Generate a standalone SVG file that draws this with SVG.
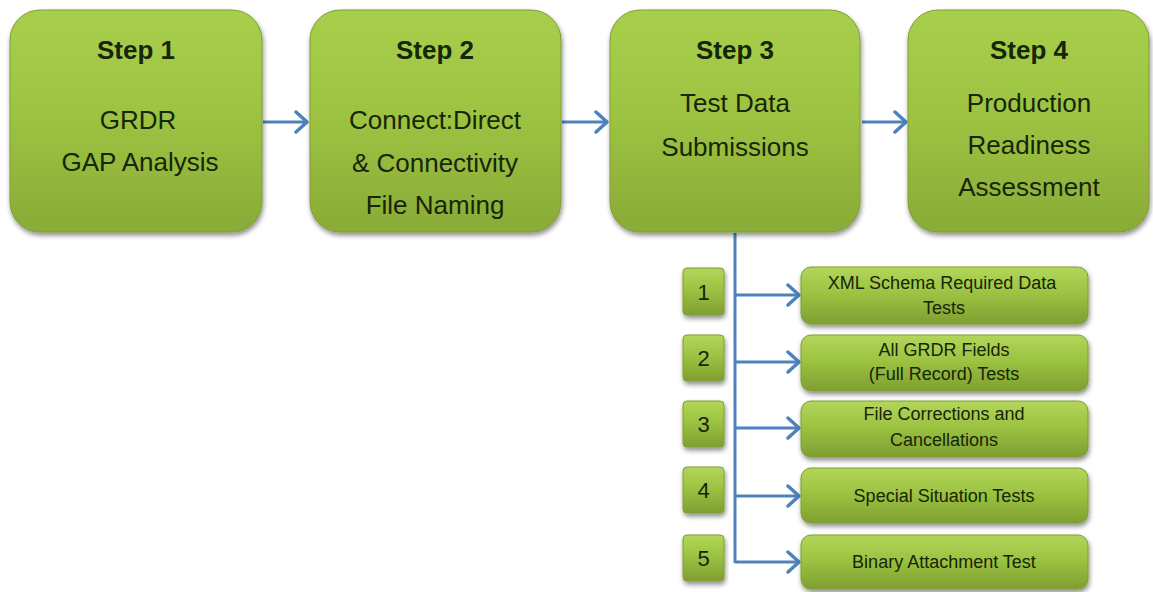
<svg xmlns="http://www.w3.org/2000/svg" width="1153" height="592" viewBox="0 0 1153 592">
<defs>
<linearGradient id="gBox" x1="0" y1="0" x2="0" y2="1">
<stop offset="0" stop-color="#a8cf4c"/>
<stop offset="0.5" stop-color="#9cc241"/>
<stop offset="1" stop-color="#89ab37"/>
</linearGradient>
<linearGradient id="gSmall" x1="0" y1="0" x2="0" y2="1">
<stop offset="0" stop-color="#b2d65a"/>
<stop offset="0.45" stop-color="#9cc342"/>
<stop offset="1" stop-color="#7f9f31"/>
</linearGradient>
<filter id="sh" x="-10%" y="-10%" width="120%" height="130%">
<feGaussianBlur in="SourceAlpha" stdDeviation="2.5"/>
<feOffset dx="1" dy="3" result="b"/>
<feComponentTransfer><feFuncA type="linear" slope="0.45"/></feComponentTransfer>
<feMerge><feMergeNode/><feMergeNode in="SourceGraphic"/></feMerge>
</filter>
<marker id="arr" markerWidth="16" markerHeight="24" refX="13" refY="12" orient="auto" markerUnits="userSpaceOnUse">
<path d="M2,2 L13,12 L2,22" fill="none" stroke="#4f81bd" stroke-width="3.5" stroke-linecap="round" stroke-linejoin="round"/>
</marker>
</defs>
<style>
.big{fill:url(#gBox);stroke:#7e9e30;stroke-width:1;filter:url(#sh)}
.sm{fill:url(#gSmall);stroke:#7e9e30;stroke-width:1;filter:url(#sh)}
.t{font-family:"Liberation Sans",Arial,sans-serif;fill:#172508;text-anchor:middle}
.h{font-size:26px;font-weight:bold}
.b{font-size:26px}
.s{font-size:18px}
.n{font-size:22px}
.c{fill:none;stroke:#4f81bd;stroke-width:3}
</style>
<rect width="1153" height="592" fill="#ffffff"/>

<g id="connectors">
<line class="c" x1="263" y1="122" x2="307" y2="122" marker-end="url(#arr)"/>
<line class="c" x1="562" y1="122" x2="607" y2="122" marker-end="url(#arr)"/>
<line class="c" x1="862" y1="122" x2="906" y2="122" marker-end="url(#arr)"/>
<line class="c" x1="735" y1="233" x2="735" y2="563"/>
<line class="c" x1="735" y1="295" x2="799" y2="295" marker-end="url(#arr)"/>
<line class="c" x1="735" y1="362" x2="799" y2="362" marker-end="url(#arr)"/>
<line class="c" x1="735" y1="428" x2="799" y2="428" marker-end="url(#arr)"/>
<line class="c" x1="735" y1="496" x2="799" y2="496" marker-end="url(#arr)"/>
<line class="c" x1="735" y1="562" x2="799" y2="562" marker-end="url(#arr)"/>
</g>

<g id="step1">
<rect class="big" x="10" y="10" width="252" height="222" rx="30"/>
<text class="t h" x="136" y="59">Step 1</text>
<text class="t b" x="138" y="129">GRDR</text>
<text class="t b" x="140" y="171">GAP Analysis</text>
</g>
<g id="step2">
<rect class="big" x="310" y="10" width="251" height="222" rx="30"/>
<text class="t h" x="435" y="59">Step 2</text>
<text class="t b" x="435" y="129">Connect:Direct</text>
<text class="t b" x="435" y="172">&amp; Connectivity</text>
<text class="t b" x="435" y="214">File Naming</text>
</g>
<g id="step3">
<rect class="big" x="610" y="10" width="250" height="222" rx="30"/>
<text class="t h" x="735" y="59">Step 3</text>
<text class="t b" x="735" y="112">Test Data</text>
<text class="t b" x="735" y="156">Submissions</text>
</g>
<g id="step4">
<rect class="big" x="908" y="10" width="241" height="222" rx="30"/>
<text class="t h" x="1029" y="59">Step 4</text>
<text class="t b" x="1029" y="112">Production</text>
<text class="t b" x="1029" y="154">Readiness</text>
<text class="t b" x="1029" y="196">Assessment</text>
</g>

<g id="num1"><rect class="sm" x="683" y="268" width="41" height="47" rx="4"/><text class="t n" x="703.5" y="300">1</text></g>
<g id="num2"><rect class="sm" x="683" y="335" width="41" height="46" rx="4"/><text class="t n" x="703.5" y="366">2</text></g>
<g id="num3"><rect class="sm" x="683" y="401" width="41" height="46" rx="4"/><text class="t n" x="703.5" y="432">3</text></g>
<g id="num4"><rect class="sm" x="683" y="467" width="41" height="46" rx="4"/><text class="t n" x="703.5" y="498">4</text></g>
<g id="num5"><rect class="sm" x="683" y="535" width="41" height="46" rx="4"/><text class="t n" x="703.5" y="566">5</text></g>

<g id="test1">
<rect class="sm" x="801" y="267" width="287" height="57" rx="10"/>
<text class="t s" x="942" y="289">XML Schema Required Data</text>
<text class="t s" x="944" y="314">Tests</text>
</g>
<g id="test2">
<rect class="sm" x="801" y="335" width="287" height="56" rx="10"/>
<text class="t s" x="944" y="356">All GRDR Fields</text>
<text class="t s" x="944" y="380">(Full Record) Tests</text>
</g>
<g id="test3">
<rect class="sm" x="801" y="401" width="287" height="56" rx="10"/>
<text class="t s" x="944" y="420">File Corrections and</text>
<text class="t s" x="944" y="446">Cancellations</text>
</g>
<g id="test4">
<rect class="sm" x="801" y="468" width="287" height="55" rx="10"/>
<text class="t s" x="944" y="502">Special Situation Tests</text>
</g>
<g id="test5">
<rect class="sm" x="801" y="535" width="287" height="54" rx="10"/>
<text class="t s" x="944" y="568">Binary Attachment Test</text>
</g>
</svg>
